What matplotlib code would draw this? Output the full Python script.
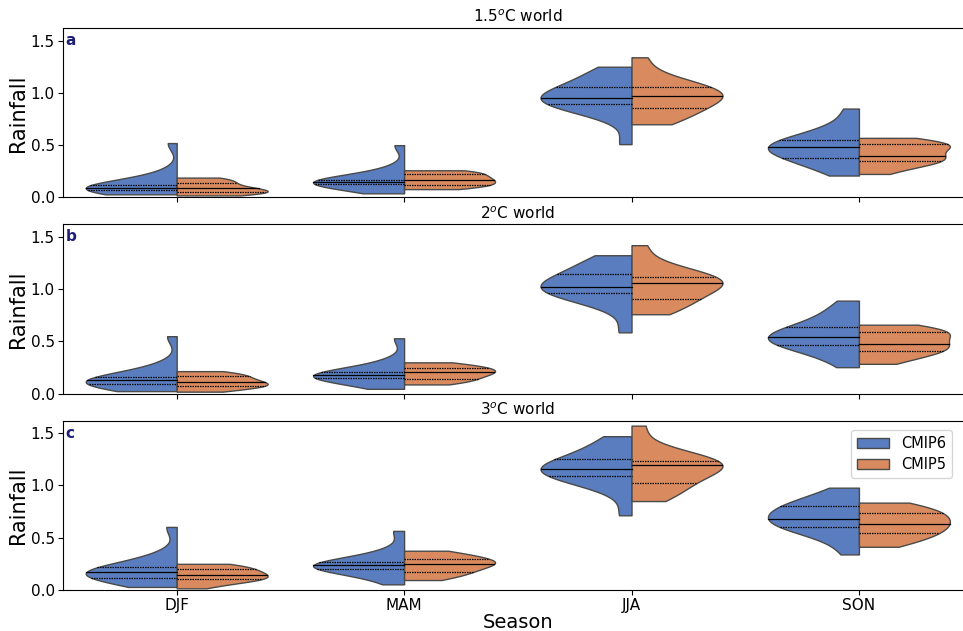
import numpy as np
import pandas as pd
import matplotlib
matplotlib.use("Agg")
import matplotlib.pyplot as plt
import seaborn as sns

seasons = ["DJF", "MAM", "JJA", "SON"]
models = ["CMIP6", "CMIP5"]
titles = ["1.5$^o$C world", "2$^o$C world", "3$^o$C world"]
letters = ["a", "b", "c"]

# ensemble rainfall values (min, quartiles, median, max kept close)
# panel a: 1.5C
a_djf6 = [0.03, 0.05, 0.06, 0.07, 0.085, 0.09, 0.095, 0.10, 0.11, 0.117, 0.16, 0.24, 0.52]
a_djf5 = [0.02, 0.03, 0.04, 0.048, 0.06, 0.07, 0.086, 0.09, 0.12, 0.14, 0.16, 0.18, 0.19]
a_mam6 = [0.04, 0.09, 0.11, 0.127, 0.14, 0.145, 0.15, 0.155, 0.16, 0.17, 0.21, 0.28, 0.50]
a_mam5 = [0.08, 0.10, 0.11, 0.12, 0.14, 0.16, 0.17, 0.18, 0.20, 0.225, 0.24, 0.25, 0.26]
a_jja6 = [0.51, 0.80, 0.86, 0.89, 0.92, 0.94, 0.95, 0.97, 1.02, 1.06, 1.12, 1.20, 1.25]
a_jja5 = [0.70, 0.75, 0.80, 0.854, 0.90, 0.95, 0.97, 0.99, 1.01, 1.057, 1.08, 1.15, 1.34]
a_son6 = [0.21, 0.30, 0.35, 0.38, 0.43, 0.46, 0.48, 0.50, 0.52, 0.55, 0.60, 0.68, 0.85]
a_son5 = [0.225, 0.29, 0.33, 0.35, 0.37, 0.39, 0.40, 0.47, 0.50, 0.51, 0.51, 0.52, 0.57]

# panel b: 2C
b_djf6 = [0.025, 0.05, 0.07, 0.089, 0.10, 0.115, 0.127, 0.135, 0.145, 0.16, 0.20, 0.28, 0.55]
b_djf5 = [0.02, 0.04, 0.06, 0.076, 0.085, 0.095, 0.111, 0.12, 0.15, 0.165, 0.18, 0.20, 0.216]
b_mam6 = [0.047, 0.10, 0.13, 0.152, 0.165, 0.17, 0.175, 0.18, 0.19, 0.206, 0.25, 0.32, 0.53]
b_mam5 = [0.089, 0.11, 0.13, 0.143, 0.17, 0.19, 0.206, 0.21, 0.23, 0.248, 0.26, 0.28, 0.30]
b_jja6 = [0.587, 0.86, 0.93, 0.962, 0.99, 1.01, 1.025, 1.05, 1.10, 1.149, 1.20, 1.28, 1.324]
b_jja5 = [0.76, 0.82, 0.87, 0.91, 0.98, 1.03, 1.054, 1.07, 1.09, 1.12, 1.15, 1.22, 1.42]
b_son6 = [0.254, 0.38, 0.44, 0.467, 0.50, 0.53, 0.546, 0.56, 0.60, 0.64, 0.70, 0.78, 0.89]
b_son5 = [0.286, 0.34, 0.39, 0.41, 0.44, 0.46, 0.476, 0.53, 0.57, 0.593, 0.60, 0.62, 0.66]

# panel c: 3C
c_djf6 = [0.029, 0.07, 0.10, 0.117, 0.14, 0.16, 0.171, 0.18, 0.20, 0.216, 0.26, 0.34, 0.603]
c_djf5 = [0.016, 0.06, 0.09, 0.102, 0.11, 0.125, 0.146, 0.16, 0.18, 0.197, 0.22, 0.24, 0.25]
c_mam6 = [0.054, 0.14, 0.18, 0.203, 0.22, 0.23, 0.235, 0.24, 0.25, 0.264, 0.31, 0.38, 0.565]
c_mam5 = [0.095, 0.13, 0.16, 0.175, 0.21, 0.24, 0.25, 0.26, 0.28, 0.30, 0.32, 0.35, 0.375]
c_jja6 = [0.714, 0.98, 1.05, 1.089, 1.12, 1.14, 1.156, 1.17, 1.21, 1.248, 1.30, 1.40, 1.47]
c_jja5 = [0.85, 0.92, 0.98, 1.022, 1.10, 1.16, 1.19, 1.20, 1.21, 1.229, 1.26, 1.33, 1.571]
c_son6 = [0.34, 0.50, 0.57, 0.60, 0.64, 0.66, 0.676, 0.73, 0.77, 0.80, 0.83, 0.87, 0.978]
c_son5 = [0.413, 0.47, 0.51, 0.54, 0.58, 0.61, 0.635, 0.67, 0.70, 0.736, 0.76, 0.80, 0.835]

panels = [
    {"DJF": (a_djf6, a_djf5), "MAM": (a_mam6, a_mam5), "JJA": (a_jja6, a_jja5), "SON": (a_son6, a_son5)},
    {"DJF": (b_djf6, b_djf5), "MAM": (b_mam6, b_mam5), "JJA": (b_jja6, b_jja5), "SON": (b_son6, b_son5)},
    {"DJF": (c_djf6, c_djf5), "MAM": (c_mam6, c_mam5), "JJA": (c_jja6, c_jja5), "SON": (c_son6, c_son5)},
]


def to_frame(panel):
    rows = []
    for s in seasons:
        for m, vals in zip(models, panel[s]):
            for v in vals:
                rows.append((s, m, v))
    return pd.DataFrame(rows, columns=["Season", "Model", "Rainfall"])


fig, axes = plt.subplots(3, 1, figsize=(9.63, 6.31), dpi=100)
# right edge runs past the figure, as in the original (cropped) figure
fig.subplots_adjust(left=0.0654, right=1.01, top=0.9556, bottom=0.065, hspace=0.158)

for i, ax in enumerate(axes):
    df = to_frame(panels[i])
    sns.violinplot(data=df, x="Season", y="Rainfall", hue="Model", order=seasons,
                   hue_order=models, split=True, inner="quart", cut=0,
                   palette="muted", density_norm="width", linewidth=1,
                   linecolor="#4a4a4a", ax=ax, legend=(i == 2))
    # quartile lines: median solid, quartiles dotted, all black
    for k, ln in enumerate(ax.lines):
        ln.set_color("black")
        ln.set_linewidth(0.9)
        if k % 3 == 1:
            ln.set_linestyle("-")
        else:
            ln.set_linestyle((0, (1.2, 0.8)))
    ax.set_xlim(-0.5, 3.5)
    ax.set_ylim(0, 1.62)
    ax.set_yticks([0.0, 0.5, 1.0, 1.5])
    ax.set_title(titles[i], fontsize=11, pad=4)
    ax.set_ylabel("Rainfall", fontsize=15, labelpad=2)
    ax.tick_params(labelsize=11, pad=2.5)
    ax.text(0.003, 0.97, letters[i], transform=ax.transAxes, ha="left", va="top",
            fontsize=11, fontweight="bold", color="#1f1f78")
    if i < 2:
        ax.set_xlabel("")
        ax.tick_params(labelbottom=False)
    else:
        ax.set_xlabel("Season", fontsize=14, labelpad=0)
        ax.legend(loc="upper right", bbox_to_anchor=(0.985, 0.985), fontsize=10.5,
                  title=None, handlelength=2.2, borderpad=0.4, labelspacing=0.4)

fig.savefig("out.png", dpi=100)
